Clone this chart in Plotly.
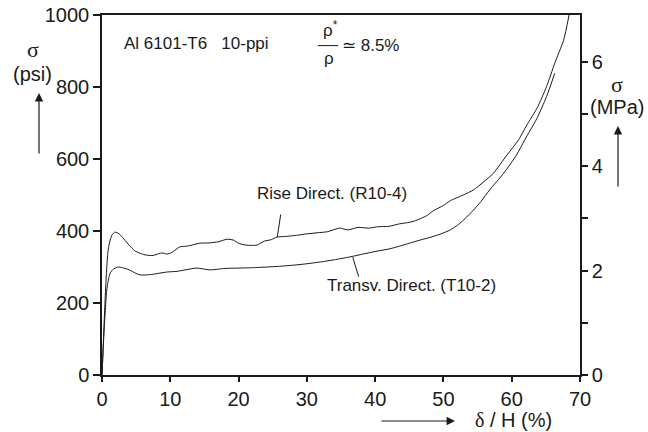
import plotly.graph_objects as go

# Compression of Al 6101-T6 foam, 10 ppi, relative density ~8.5 %
strain_rise = [0, 0.15, 0.45, 0.7, 0.9, 1.2, 1.5, 1.9, 2.5, 3.2, 4.0, 4.8, 5.6, 6.5,
               7.5, 8.3, 8.8, 9.5, 10.2, 11.4, 12.5, 14.3, 15.8, 17.0, 18.3, 19.2,
               20.0, 21.0, 22.0, 22.7, 23.8, 24.8, 25.6, 27.0, 28.5, 30.0, 31.5,
               33.0, 34.8, 36.0, 37.5, 39.0, 40.5, 42.0, 43.6, 45.0, 46.1, 47.5,
               48.5, 50.0, 51.0, 52.9, 54.4, 55.8, 57.3, 59.3, 61.0, 62.2, 63.7,
               65.1, 66.3, 67.6, 68.4]
stress_rise = [0, 69, 208, 300, 347, 375, 390, 397, 392, 378, 360, 345, 338, 333,
               332, 337, 339, 336, 340, 356, 358, 366, 367, 370, 377, 375,
               366, 361, 360, 361, 372, 376, 383, 385, 388, 392, 395,
               398, 408, 403, 410, 408, 412, 413, 420, 424, 430, 442,
               456, 471, 484, 500, 514, 535, 560, 611, 653, 694, 741,
               801, 866, 930, 1000]

strain_transv = [0, 0.3, 0.7, 1.0, 1.2, 1.6, 2.3, 3.0, 4.0, 5.0, 5.6, 6.5, 7.5,
                 9.5, 11.0, 13.9, 15.8, 18.0, 20.0, 22.0, 24.2, 26.0, 28.0, 30.0,
                 32.0, 34.0, 36.3, 38.0, 40.0, 42.0, 43.6, 45.0, 46.6, 48.0, 49.5,
                 51.0, 52.2, 53.2, 54.3, 55.5, 56.8, 58.8, 60.7, 61.9, 63.7, 65.1,
                 66.3]
stress_transv = [0, 120, 236, 270, 283, 293, 300, 298, 292, 282, 278, 278, 280,
                 286, 288, 297, 292, 296, 297, 298, 300, 302, 305, 309,
                 314, 320, 328, 335, 343, 350, 358, 366, 375, 382, 391,
                 403, 418, 435, 456, 482, 515, 560, 611, 653, 713, 773,
                 838]

psi_ticks = [0, 200, 400, 600, 800, 1000]
mpa_ticks = [0, 1, 2, 3, 4, 5, 6]
mpa_labels = ["0", "", "2", "", "4", "", "6"]
strain_ticks = [0, 10, 20, 30, 40, 50, 60, 70]

PSI_PER_MPA = 145.038
INK = "#1a1a1a"
SANS = "Liberation Sans, Arial, sans-serif"
SERIF = "Liberation Serif, Times New Roman, serif"

fig = go.Figure()
fig.add_trace(go.Scatter(x=strain_rise, y=stress_rise, mode="lines",
                         line=dict(color=INK, width=1, shape="spline", smoothing=0.6),
                         name="Rise Direct. (R10-4)"))
fig.add_trace(go.Scatter(x=strain_transv, y=stress_transv, mode="lines",
                         line=dict(color=INK, width=1, shape="spline", smoothing=0.6),
                         name="Transv. Direct. (T10-2)"))
# invisible trace so the MPa axis is drawn
fig.add_trace(go.Scatter(x=[None], y=[None], yaxis="y2", showlegend=False))


def axis_style(ticklen=7):
    return dict(showline=True, linecolor=INK, linewidth=1.5, ticks="outside",
                tickcolor=INK, tickwidth=1.5, ticklen=ticklen, showgrid=False,
                zeroline=False, automargin=False,
                tickfont=dict(family=SANS, size=20, color=INK))


fig.update_layout(
    width=648, height=432,
    margin=dict(l=102, r=68, t=15, b=57),
    paper_bgcolor="white", plot_bgcolor="white",
    showlegend=False,
    xaxis=dict(range=[0, 70], tickvals=strain_ticks, mirror=True, **axis_style(5)),
    yaxis=dict(range=[0, 1000], tickvals=psi_ticks, **axis_style(7)),
    yaxis2=dict(range=[0, 1000 / PSI_PER_MPA], tickvals=mpa_ticks, ticktext=mpa_labels,
                overlaying="y", side="right", **axis_style(6)),
)


def label(x, y, text, ref="data", size=17, family=SANS, xanchor="center"):
    r = ("x", "y") if ref == "data" else ("paper", "paper")
    return dict(x=x, y=y, xref=r[0], yref=r[1], text=text, showarrow=False,
                xanchor=xanchor, yanchor="middle",
                font=dict(family=family, size=size, color=INK))


ann = []
# header text
ann.append(label(2.9, 922, "Al 6101-T6   10-ppi", xanchor="left"))
ann.append(label(33.5, 960, "ρ<sup>*</sup>"))
ann.append(label(33.2, 878, "ρ"))
ann.append(label(34.9, 914, "≃ 8.5%", xanchor="left"))
# curve labels
ann.append(label(33.75, 505, "Rise Direct. (R10-4)"))
ann.append(label(45.3, 250, "Transv. Direct. (T10-2)"))


# axis titles placed in paper coordinates
def px(xp):
    return (xp - 102) / 478


def py(yp):
    return (375 - yp) / 360


ann.append(label(px(33), py(49), "σ", ref="paper", size=22, family=SERIF))
ann.append(label(px(32), py(74), "(psi)", ref="paper", size=20))
ann.append(label(px(617), py(84), "σ", ref="paper", size=22, family=SERIF))
ann.append(label(px(617), py(107), "(MPa)", ref="paper", size=20))
ann.append(label(px(513), py(420),
                 "<span style='font-family:Liberation Serif'>δ</span> / H (%)",
                 ref="paper", size=20))
# direction arrows (tail -> head, pixel offsets)
for (x0, y0, x1, y1) in [(39, 155, 39, 93), (618, 188, 618, 126), (380, 421, 455, 421)]:
    ann.append(dict(x=px(x1), y=py(y1), ax=x0 - x1, ay=y0 - y1, xref="paper", yref="paper",
                    axref="pixel", ayref="pixel", text="", showarrow=True,
                    arrowhead=2, arrowsize=1.4, arrowwidth=1.2, arrowcolor=INK))
fig.update_layout(annotations=ann)

# fraction bar and leader lines
fig.add_shape(type="line", x0=31.6, x1=34.6, y0=915, y1=915, xref="x", yref="y",
              line=dict(color=INK, width=1))
fig.add_shape(type="line", x0=26.17, y0=446, x1=25.67, y1=383, xref="x", yref="y",
              line=dict(color=INK, width=1))
fig.add_shape(type="line", x0=37.59, y0=273, x1=36.71, y1=328, xref="x", yref="y",
              line=dict(color=INK, width=1))

fig.write_html("out.html")
